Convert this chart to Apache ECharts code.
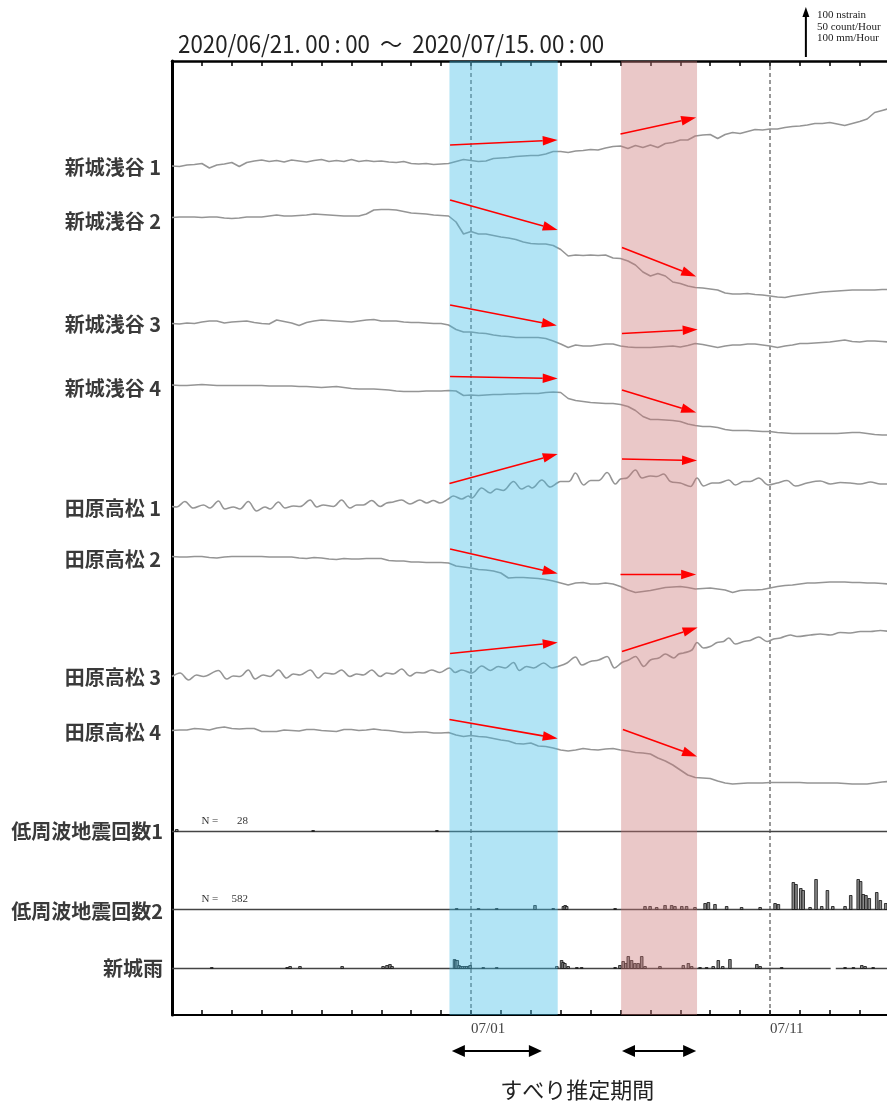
<!DOCTYPE html>
<html><head><meta charset="utf-8">
<script src="https://cdn.jsdelivr.net/npm/echarts@6/dist/echarts.min.js"></script>
<style>html,body{margin:0;padding:0;background:#fff}#c{width:887px;height:1106px}</style>
</head><body><div id="c"></div>
<script>
// ===== DATA (x = days since 2020/06/21 00:00; strain in nstrain, counts per hour, rain in mm/hour) =====
const titleText = '2020/06/21.\u200900\u2009:\u200900  〜  2020/07/15.\u200900\u2009:\u200900';
const totalDays = 24;
const stepDays = 0.25; // 6-hour samples
const xTickLabels = ['07/01', '07/11'];
const xTickLabelDays = [10, 20];
const traceNames = ['新城浅谷 1','新城浅谷 2','新城浅谷 3','新城浅谷 4','田原高松 1','田原高松 2','田原高松 3','田原高松 4'];
const panelNames = ['低周波地震回数1','低周波地震回数2','新城雨'];
const lfeTotals = [28, 582];
const scaleTexts = ['100 nstrain','50 count/Hour','100 mm/Hour'];
const slipPeriods = [[9.28, 12.9], [15.02, 17.56]];
const slipArrowPeriods = [[9.36, 12.37], [15.05, 17.53]];
const slipLabel = 'すべり推定期間';
const rainMissing = [22.03, 22.2];

const shinshiro1 = [0,-1,2,3, 5,-4,2,4, 7,-1,7,10, 12,9,11,8, 12,10,8,11, 13,9,11,9, 13,9,11,9, 10,8,7,9, 5,4,5,3, 4,5,9,13, 11,9,10,15, 16,17,19,20, 21,21,24,29, 29,27,30,31, 33,32,36,39, 40,35,41,37, 42,37,45,47, 52,52,60,62, 63,55,63,67, 65,69,73,72, 74,74,77,79, 80,82,85,85, 87,84,81,85, 89,94,107,111, 115];
const shinshiro2 = [0,1,1,1, 0,1,1,-1, -2,-1,1,1, 1,3,5,3, 3,4,5,7, 6,5,4,3, 3,3,7,15, 16,16,15,12, 9,8,7,5, 4,3,-9,-33, -28,-33,-33,-36, -39,-41,-44,-49, -52,-53,-53,-56, -64,-77,-75,-76, -75,-76,-75,-81, -82,-87,-95,-109, -117,-112,-117,-129, -132,-137,-140,-141, -143,-145,-151,-153, -153,-152,-154,-155, -157,-159,-160,-157, -155,-153,-151,-149, -148,-147,-146,-145, -145,-145,-145,-144, -144];
const shinshiro3 = [0,-1,1,0, 3,5,5,1, 3,4,5,2, 0,-1,7,4, 1,-4,2,5, 7,6,5,4, 3,5,7,8, 5,5,5,3, 2,2,1,0, 0,-3,-12,-17, -17,-19,-20,-23, -25,-26,-28,-28, -28,-28,-30,-35, -41,-48,-43,-45, -45,-43,-41,-41, -45,-47,-48,-48, -48,-47,-46,-45, -47,-44,-40,-42, -45,-48,-45,-43, -43,-41,-41,-43, -45,-48,-45,-43, -40,-40,-39,-38, -37,-35,-33,-36, -37,-35,-35,-36, -37];
const shinshiro4 = [0,-1,-1,0, 1,0,-1,-1, -1,-1,-1,-1, -1,-2,-2,-2, -2,-3,-3,-4, -5,-4,-3,-5, -7,-8,-8,-8, -9,-10,-12,-13, -13,-13,-12,-12, -12,-11,-12,-21, -20,-21,-20,-19, -19,-18,-18,-17, -17,-17,-15,-14, -15,-27,-31,-33, -35,-36,-37,-37, -39,-43,-51,-63, -69,-69,-70,-71, -73,-78,-81,-83, -83,-85,-89,-91, -91,-91,-92,-93, -93,-95,-96,-97, -97,-97,-97,-97, -97,-97,-96,-95, -95,-97,-99,-100, -100];
const tahara2 = [0,-1,-1,0, 0,-2,-3,-1, 0,0,0,0, 0,-1,-1,-1, -1,-3,-4,-2, -3,-5,-6,-4, -5,-5,-4,-4, -4,-8,-9,-9, -11,-11,-12,-12, -12,-13,-19,-21, -23,-26,-27,-29, -33,-43,-42,-42, -43,-44,-46,-49, -53,-57,-53,-52, -55,-55,-53,-55, -60,-67,-72,-70, -68,-65,-62,-61, -60,-62,-65,-64, -63,-65,-67,-72, -68,-67,-67,-66, -63,-60,-58,-57, -55,-53,-53,-52, -51,-51,-51,-52, -52,-53,-53,-54, -55];
const tahara4 = [0,1,1,4, 3,1,5,7, 4,3,4,4, -2,-2,-2,1, 0,-1,2,2, 0,-1,-2,2, 2,0,1,3, 1,0,-2,-4, -4,-3,-3,-5, -5,-4,-9,-12, -10,-12,-13,-16, -19,-21,-26,-27, -25,-31,-32,-35, -39,-41,-39,-36, -38,-39,-37,-36, -39,-41,-44,-45, -47,-55,-61,-69, -79,-89,-94,-95, -96,-101,-105,-107, -106,-105,-105,-105, -104,-104,-104,-104, -104,-105,-105,-105, -105,-105,-106,-107, -107,-107,-105,-103, -102];
// tidal traces: [day, nstrain] at turning points
const tahara1 = [[0,0],[0.16,-1],[0.43,10],[0.71,-3],[1.05,3],[1.27,-3],[1.55,11],[1.77,-5],[2.05,-1],[2.27,-5],[2.55,10],[2.83,-9],[3.11,-1],[3.28,-5],[3.56,9],[3.78,-3],[4.06,1],[4.28,0],[4.62,13],[4.84,-1],[5.06,3],[5.40,0],[5.67,13],[5.95,-3],[6.18,3],[6.40,3],[6.68,12],[6.96,0],[7.18,7],[7.40,9],[7.68,13],[7.96,5],[8.29,13],[8.52,7],[8.74,12],[8.96,7],[9.24,15],[9.41,21],[9.69,15],[9.91,21],[10.02,17],[10.36,37],[10.64,27],[10.86,35],[11.08,32],[11.42,50],[11.69,35],[11.92,41],[12.04,37],[12.37,53],[12.65,39],[12.88,47],[12.99,50],[13.27,50],[13.49,67],[13.77,43],[14.0,52],[14.27,52],[14.55,68],[14.83,45],[15.0,55],[15.22,57],[15.50,73],[15.72,57],[16.0,61],[16.22,60],[16.44,65],[16.67,50],[17.0,47],[17.34,40],[17.56,57],[17.78,41],[18.06,47],[18.28,47],[18.62,53],[18.84,43],[19.12,50],[19.34,50],[19.62,57],[19.95,43],[20.24,47],[20.57,52],[20.85,41],[21.24,47],[21.68,51],[22.02,45],[22.35,48],[22.68,47],[23.02,45],[23.36,49],[23.69,45],[24,45]];
const tahara3 = [[0,0],[0.27,7],[0.55,-7],[0.82,3],[1.05,0],[1.55,12],[1.83,-5],[2.05,1],[2.27,0],[2.55,13],[2.78,-5],[3.05,3],[3.28,0],[3.56,13],[3.83,-3],[4.06,5],[4.28,3],[4.62,13],[4.89,-3],[5.12,7],[5.40,5],[5.67,13],[5.95,0],[6.18,5],[6.40,3],[6.68,13],[6.96,0],[7.18,7],[7.40,5],[7.68,15],[7.96,1],[8.18,8],[8.41,7],[8.68,13],[8.96,8],[9.28,17],[9.47,8],[9.69,13],[10.02,7],[10.36,21],[10.64,12],[10.91,20],[11.14,17],[11.42,28],[11.62,12],[11.86,20],[12.10,17],[12.43,27],[12.71,17],[12.91,20],[13.21,27],[13.49,39],[13.71,23],[13.99,30],[14.27,33],[14.55,40],[14.80,17],[15.05,28],[15.27,33],[15.50,40],[15.78,20],[16.0,33],[16.28,37],[16.50,45],[16.78,37],[16.95,45],[17.11,47],[17.39,53],[17.56,68],[17.78,57],[18.0,60],[18.23,68],[18.45,70],[18.62,77],[18.84,65],[19.12,70],[19.34,72],[19.62,79],[19.90,70],[20.12,75],[20.35,77],[20.68,83],[20.90,80],[21.35,83],[21.68,85],[22.02,83],[22.35,88],[22.69,87],[23.02,90],[23.36,90],[23.69,92],[24,90]];
// hourly counts / rain: [day, value]
const lfe1 = [[0.16,2],[4.72,1],[8.86,1]];
const lfe2 = [[9.52,1],[10.25,1],[10.86,1],[12.14,4],[12.75,1],[13.09,3],[13.15,4],[13.2,3],[14.82,1],[15.82,3],[15.99,3],[16.21,2],[16.49,4],[16.71,4],[16.82,3],[17.05,3],[17.21,3],[17.49,2],[17.83,6],[17.94,7],[18.16,5],[18.55,3],[19.05,2],[19.67,2],[20.17,6],[20.28,5],[20.78,27],[20.87,25],[21.03,21],[21.11,19],[21.34,2],[21.54,30],[21.73,3],[21.92,19],[22.10,3],[22.51,3],[22.70,14],[22.95,30],[23.03,28],[23.12,15],[23.21,14],[23.32,11],[23.57,17],[23.69,9],[23.87,6]];
const rain = [[1.33,2],[3.85,2],[3.95,4],[4.28,4],[5.69,4],[7.06,4],[7.19,6],[7.29,8],[7.36,4],[9.45,18],[9.49,16],[9.54,16],[9.60,6],[9.66,4],[9.72,4],[9.80,4],[9.86,4],[9.93,4],[9.97,6],[10.41,2],[10.86,2],[12.87,4],[13.03,16],[13.08,12],[13.14,10],[13.25,4],[13.54,2],[13.70,2],[14.82,2],[14.98,6],[15.09,14],[15.18,10],[15.26,24],[15.37,16],[15.48,10],[15.59,10],[15.71,24],[15.82,4],[16.32,4],[17.1,6],[17.27,10],[17.38,4],[17.66,2],[17.88,2],[18.1,4],[18.27,16],[18.42,4],[18.66,18],[19.56,8],[19.67,4],[20.39,2],[22.51,2],[22.79,2],[23.07,6],[23.18,4],[23.45,2]];
// red slip-direction arrows: [day0, level0, day1, level1] in plot units
const slipArrows = [
  [9.30,1740,12.90,1750],[9.30,1630,12.90,1570],[9.30,1420,12.87,1379],[9.30,1277,12.90,1273],
  [15.0,1762,17.53,1795],[15.05,1535,17.53,1477],[15.05,1363,17.58,1371],[15.05,1250,17.53,1205],
  [9.28,1063,12.90,1122],[9.30,932,12.90,883],[9.30,723,12.90,745],[9.28,591,12.90,553],
  [15.05,1112,17.56,1109],[15.0,881,17.53,881],[15.05,727,17.58,775],[15.08,571,17.56,517]
];

// ===== LAYOUT =====
const yMax = 1908;                 // plot units (1 nstrain = 1 unit)
const countScale = 2, rainScale = 1;
const traceLevels = [1698,1595,1383,1260,1017,917,677,569];
const traceLabelLevels = [1696,1588,1382,1254,1014,912,676,566];
const panelLevels = [367,211,93];
const panelLabelLevels = [368,208,94];
const tidalSmooth = [false,false,false,false,0.35,false,0.35,false];

const chart = echarts.init(document.getElementById('c'), null, {renderer:'canvas'});

const stepSeries = arr => arr.map((v,i)=>[i*stepDays, v]);
const traceData = [stepSeries(shinshiro1), stepSeries(shinshiro2), stepSeries(shinshiro3), stepSeries(shinshiro4), tahara1, stepSeries(tahara2), tahara3, stepSeries(tahara4)];

const series = [];
traceData.forEach((d,i)=>{
  series.push({type:'line', z:2, silent:true, showSymbol:false, symbol:'none', smooth:tidalSmooth[i],
    data:d.map(([x,v])=>[x, traceLevels[i]+v]),
    lineStyle:{color:'#959595', width:1.6}});
});
// baselines
const baseLine = (lvl, gap) => {
  const d = gap ? [[0,lvl],[gap[0],lvl],[gap[0],null],[gap[1],lvl],[totalDays,lvl]] : [[0,lvl],[totalDays,lvl]];
  return {type:'line', z:2, silent:true, showSymbol:false, symbol:'none', connectNulls:false, data:d, lineStyle:{color:'#444', width:1.3}};
};
series.push(baseLine(panelLevels[0]), baseLine(panelLevels[1]), baseLine(panelLevels[2], rainMissing));
// bars
function barSeries(data, base, scale){
  return {type:'custom', coordinateSystem:'cartesian2d', z:3, silent:true,
    data:data.map(([d,v])=>[d, base, base+v*scale]), encode:{x:0, y:[1,2]},
    renderItem:(params, api)=>{
      const p0 = api.coord([api.value(0), api.value(1)]);
      const p1 = api.coord([api.value(0), api.value(2)]);
      const w = 2.6;
      return {type:'rect', shape:{x:p0[0]-w/2, y:p1[1], width:w, height:p0[1]-p1[1]}, style:{fill:'#8a8a8a', stroke:'#111', lineWidth:0.8}};
    }};
}
series.push(barSeries(lfe1, panelLevels[0], countScale), barSeries(lfe2, panelLevels[1], countScale), barSeries(rain, panelLevels[2], rainScale));
// dashed date lines
series.push({type:'custom', coordinateSystem:'cartesian2d', z:1, silent:true, data:xTickLabelDays.map(d=>[d]), encode:{x:0},
  renderItem:(params, api)=>{
    const a = api.coord([api.value(0), 0]), b = api.coord([api.value(0), yMax]);
    return {type:'line', shape:{x1:a[0], y1:a[1], x2:b[0], y2:b[1]}, style:{stroke:'#333', lineWidth:1, lineDash:[4,3]}};
  }});
// slip period bands (overlay)
const bandColors = ['rgba(63,188,230,0.4)', 'rgba(202,118,118,0.4)'];
series.push({type:'custom', coordinateSystem:'cartesian2d', z:6, silent:true, data:slipPeriods.map((p,i)=>[p[0],p[1],i]), encode:{x:[0,1]},
  renderItem:(params, api)=>{
    const a = api.coord([api.value(0), yMax]), b = api.coord([api.value(1), 0]);
    return {type:'rect', shape:{x:a[0], y:a[1], width:b[0]-a[0], height:b[1]-a[1]}, style:{fill:bandColors[api.value(2)]}};
  }});
// red arrows
series.push({type:'custom', coordinateSystem:'cartesian2d', z:10, silent:true, data:slipArrows, encode:{x:[0,2], y:[1,3]},
  renderItem:(params, api)=>{
    const a = api.coord([api.value(0), api.value(1)]), b = api.coord([api.value(2), api.value(3)]);
    const dx = b[0]-a[0], dy = b[1]-a[1], L = Math.hypot(dx,dy), ux = dx/L, uy = dy/L;
    const hl = 15, hw = 4.8;
    const bx = b[0]-ux*hl, by = b[1]-uy*hl;
    return {type:'group', children:[
      {type:'line', shape:{x1:a[0], y1:a[1], x2:bx, y2:by}, style:{stroke:'#ff0000', lineWidth:1.6}},
      {type:'polygon', shape:{points:[[b[0],b[1]],[bx-uy*hw, by+ux*hw],[bx+uy*hw, by-ux*hw]]}, style:{fill:'#ff0000'}}
    ]};
  }});

const xAxisBase = {type:'value', min:0, max:totalDays, interval:1, splitLine:{show:false}};
chart.setOption({
  animation:false,
  grid:{left:172, top:61, width:717.6, height:954, outerBoundsMode:'none', containLabel:false},
  xAxis:[
    Object.assign({}, xAxisBase, {position:'bottom',
      axisLine:{lineStyle:{color:'#000', width:2}},
      axisTick:{inside:true, length:5, lineStyle:{color:'#000', width:1.5}},
      axisLabel:{margin:7, align:'left', fontFamily:'Liberation Serif', fontSize:15, color:'#444',
        formatter:v=>{const k = xTickLabelDays.indexOf(Math.round(v)); return k>=0 ? xTickLabels[k] : '';}}}),
    Object.assign({}, xAxisBase, {position:'top',
      axisLine:{lineStyle:{color:'#000', width:2.5}},
      axisTick:{inside:true, length:5, lineStyle:{color:'#000', width:1.5}},
      axisLabel:{show:false}})
  ],
  yAxis:{type:'value', min:0, max:yMax, axisLine:{show:true, lineStyle:{color:'#000', width:3}}, axisTick:{show:false}, axisLabel:{show:false}, splitLine:{show:false}},
  series
});

// ===== TEXT & DECORATIONS placed via the chart's scales =====
const px = (d,v)=>chart.convertToPixel({gridIndex:0}, [d,v]);
const g = [];
const cjk = '"Noto Sans CJK JP"';
const labelFont = 'bold 20px ' + cjk;
traceNames.forEach((n,i)=>{ const p = px(0, traceLabelLevels[i]);
  g.push({type:'text', x:p[0]-11, y:p[1], style:{text:n, font:labelFont, fill:'#3a3a3a', align:'right', verticalAlign:'middle'}}); });
panelNames.forEach((n,i)=>{ const p = px(0, panelLabelLevels[i]);
  g.push({type:'text', x:p[0]-9, y:p[1], style:{text:n, font:labelFont, fill:'#3a3a3a', align:'right', verticalAlign:'middle'}}); });
lfeTotals.forEach((n,i)=>{ const p = px(1, panelLevels[i]);
  g.push({type:'text', x:p[0]-0.5, y:p[1]-10, style:{text:'N =', font:'11px "Liberation Serif"', fill:'#333', align:'left', verticalAlign:'middle'}});
  g.push({type:'text', x:p[0]+46, y:p[1]-10, style:{text:String(n), font:'11px "Liberation Serif"', fill:'#333', align:'right', verticalAlign:'middle'}}); });
// title
const pt = px(0, yMax);
g.push({type:'text', x:pt[0]+6, y:pt[1]-17, scaleX:0.93, style:{text:titleText, font:'24px '+cjk, fill:'#222', align:'left', verticalAlign:'middle'}});
// scale arrow
const arrowLen = px(0,0)[1] - px(0,100)[1];
const ax = px(21.2, 0)[0], ay1 = pt[1]-4;
g.push({type:'line', shape:{x1:ax, y1:ay1, x2:ax, y2:ay1-arrowLen+8}, style:{stroke:'#000', lineWidth:2}});
g.push({type:'polygon', shape:{points:[[ax, ay1-arrowLen],[ax-3.5, ay1-arrowLen+10],[ax+3.5, ay1-arrowLen+10]]}, style:{fill:'#000'}});
scaleTexts.forEach((t,i)=>g.push({type:'text', x:ax+11, y:15+i*11.7, style:{text:t, font:'11px "Liberation Serif"', fill:'#222', align:'left', verticalAlign:'middle'}}));
// slip-period double arrows and label
const yb = px(0,0)[1] + 36;
slipArrowPeriods.forEach(([d0,d1])=>{
  const x0 = px(d0,0)[0], x1 = px(d1,0)[0], hl = 13, hw = 6;
  g.push({type:'line', shape:{x1:x0+hl-1, y1:yb, x2:x1-hl+1, y2:yb}, style:{stroke:'#000', lineWidth:2}});
  g.push({type:'polygon', shape:{points:[[x0,yb],[x0+hl,yb-hw],[x0+hl,yb+hw]]}, style:{fill:'#000'}});
  g.push({type:'polygon', shape:{points:[[x1,yb],[x1-hl,yb-hw],[x1-hl,yb+hw]]}, style:{fill:'#000'}});
});
const xm = (px(slipPeriods[0][0],0)[0] + px(slipPeriods[1][1],0)[0]) / 2;
g.push({type:'text', x:xm+4, y:yb+39, style:{text:slipLabel, font:'22px '+cjk, fill:'#222', align:'center', verticalAlign:'middle'}});
chart.setOption({graphic:g});
</script></body></html>
